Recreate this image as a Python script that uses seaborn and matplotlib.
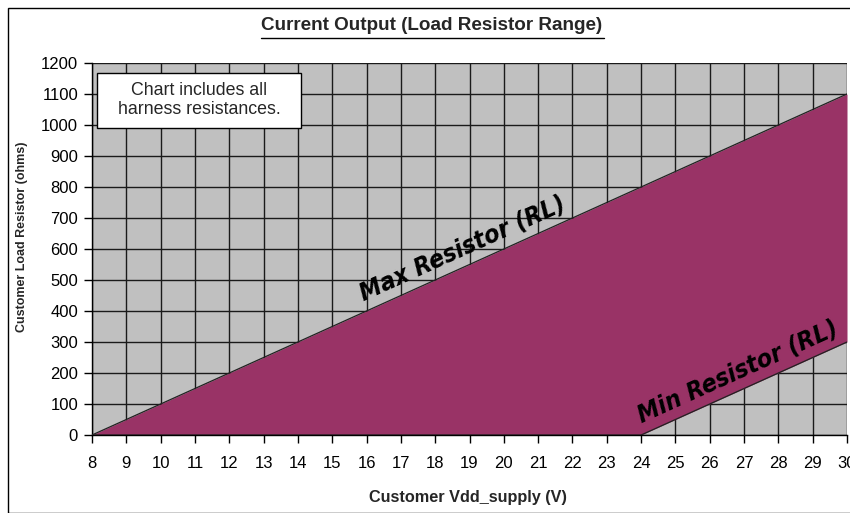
"""
Current Output (Load Resistor Range): allowed load resistor band vs supply voltage.
"""

import matplotlib
matplotlib.use("Agg")
import matplotlib.pyplot as plt
import matplotlib.patches as patches
import seaborn as sns
import pandas as pd

# data
vdd = [8, 24, 30]
max_resistor = [0, 800, 1100]
min_resistor = [0, 0, 300]
x_ticks = list(range(8, 31))
y_ticks = list(range(0, 1201, 100))

df = pd.DataFrame({"vdd": vdd, "max": max_resistor, "min": min_resistor})

sns.set_theme(style="white")
plt.rcParams["font.family"] = ["Liberation Sans", "DejaVu Sans"]

fig = plt.figure(figsize=(8.5, 5.13), dpi=100)
ax = fig.add_axes([92 / 850, 1 - 435 / 513, 755 / 850, 372 / 513])
ax.set_facecolor("#C0C0C0")

# band between the two limits
ax.fill_between(df["vdd"], df["min"], df["max"], color="#993366", zorder=2, linewidth=0)
sns.lineplot(data=df, x="vdd", y="max", ax=ax, color="#222222", linewidth=0.9, zorder=3)
sns.lineplot(data=df, x="vdd", y="min", ax=ax, color="#222222", linewidth=0.9, zorder=3)

ax.set_xlim(8, 30)
ax.set_ylim(0, 1200)
ax.set_xticks(x_ticks)
ax.set_yticks(y_ticks)
ax.grid(True, color="#1a1a1a", linewidth=1.0, zorder=1)
ax.set_axisbelow(True)
ax.tick_params(axis="both", direction="out", length=6, width=1, colors="black",
               labelsize=12, left=True, bottom=True, pad=4)
ax.tick_params(axis="x", pad=9)
for s in ["top", "right"]:
    ax.spines[s].set_visible(False)
for s in ["left", "bottom"]:
    ax.spines[s].set_color("black")
    ax.spines[s].set_linewidth(1)

ax.set_xlabel("Customer Vdd_supply (V)", fontsize=11.7, fontweight="bold")
ax.xaxis.set_label_coords((468 - 92) / 755, -(490 - 435) / 372)
ax.set_ylabel("Customer Load Resistor (ohms)", fontsize=9, fontweight="bold")
ax.yaxis.set_label_coords(-(92 - 28) / 755, (435 - 237) / 372)

# title (underlined)
fig.text(432 / 850, 1 - 25 / 513, "Current Output (Load Resistor Range)",
         ha="center", va="center", fontsize=13.6, fontweight="bold")
fig.add_artist(plt.Line2D([261 / 850, 604 / 850], [1 - 38 / 513, 1 - 38 / 513],
                          color="black", linewidth=1))

# note box
ax.add_patch(patches.Rectangle(((97 - 92) / 755, (435 - 128) / 372), 204 / 755, 55 / 372,
                               transform=ax.transAxes, facecolor="white",
                               edgecolor="black", linewidth=1, zorder=5))
ax.text((199 - 92) / 755, (435 - 100) / 372, "Chart includes all\nharness resistances.",
        transform=ax.transAxes, ha="center", va="center", fontsize=12.8,
        linespacing=1.2, zorder=6)

# line labels
label_font = dict(family="DejaVu Sans", fontstretch="condensed", fontsize=18,
                  fontweight="bold", fontstyle="italic", color="black")
ax.text(18.78, 603, "Max Resistor (RL)", rotation=24.3, ha="center", va="center",
        zorder=6, rotation_mode="anchor", **label_font)
ax.text(26.82, 203, "Min Resistor (RL)", rotation=24.3, ha="center", va="center",
        zorder=6, rotation_mode="anchor", **label_font)

# outer frame
fig.add_artist(patches.Rectangle((8 / 850, 0), 1.0, 1 - 8 / 513, transform=fig.transFigure,
                                 fill=False, edgecolor="black", linewidth=1))

fig.savefig("out.png", dpi=100)
